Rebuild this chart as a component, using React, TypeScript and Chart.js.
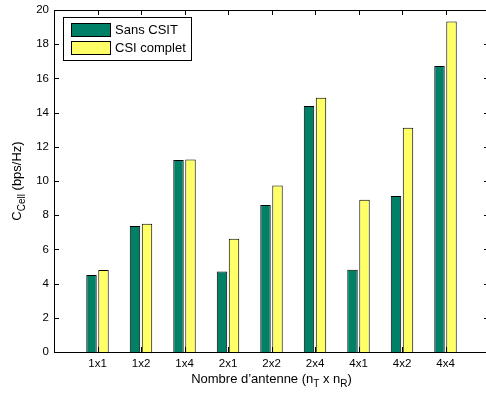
import React, { useEffect, useRef } from "react";
import { Chart, registerables } from "chart.js";

Chart.register(...registerables);

// Antenna configurations (nT x nR)
const categories = ["1x1", "1x2", "1x4", "2x1", "2x2", "2x4", "4x1", "4x2", "4x4"];
// Cell capacity in bps/Hz
const sansCsit = [4.5, 7.37, 11.23, 4.71, 8.6, 14.39, 4.81, 9.12, 16.72];
const csiComplet = [4.8, 7.5, 11.26, 6.63, 9.74, 14.87, 8.9, 13.12, 19.33];
const seriesNames = ["Sans CSIT", "CSI complet"];
const yTicks = [0, 2, 4, 6, 8, 10, 12, 14, 16, 18, 20];

const GREEN = "rgb(0,128,102)";
const YELLOW = "rgb(255,255,102)";
const FONT = "'Liberation Sans', Arial, Helvetica, sans-serif";

// Empty slots at both ends reproduce the 0..10 x-range around the 9 groups
const xLabels = ["", ...categories, ""];
const pad = (arr: number[]) => [null, ...arr, null];

// Draws a text run made of normal and subscript pieces, starting at x along the baseline
function drawRuns(ctx: CanvasRenderingContext2D, runs: { t: string; sub?: boolean }[], x: number, y: number, size: number, subSize: number) {
  for (const r of runs) {
    ctx.font = `${r.sub ? subSize : size}px ${FONT}`;
    ctx.fillText(r.t, x, r.sub ? y + 3.5 : y);
    x += ctx.measureText(r.t).width;
  }
  return x;
}
function runsWidth(ctx: CanvasRenderingContext2D, runs: { t: string; sub?: boolean }[], size: number, subSize: number) {
  let w = 0;
  for (const r of runs) {
    ctx.font = `${r.sub ? subSize : size}px ${FONT}`;
    w += ctx.measureText(r.t).width;
  }
  return w;
}

const decorPlugin = {
  id: "decor",
  afterDraw(chart: any) {
    const ctx: CanvasRenderingContext2D = chart.ctx;
    const { left, right, top, bottom } = chart.chartArea;
    const xs = chart.scales.x;
    const ys = chart.scales.y;
    ctx.save();
    ctx.strokeStyle = "#000";
    ctx.lineWidth = 1;

    // axes box
    ctx.beginPath();
    ctx.rect(left + 0.5, top + 0.5, right - left - 1, bottom - top);
    ctx.stroke();

    // inward tick marks on all four sides
    const tl = 5;
    ctx.beginPath();
    for (const v of yTicks) {
      const py = Math.round(ys.getPixelForValue(v)) + 0.5;
      ctx.moveTo(left, py);
      ctx.lineTo(left + tl, py);
      ctx.moveTo(right, py);
      ctx.lineTo(right - tl, py);
    }
    for (let i = 1; i <= categories.length; i++) {
      const px = Math.round(xs.getPixelForValue(i)) + 0.5;
      ctx.moveTo(px, top);
      ctx.lineTo(px, top + tl);
      ctx.moveTo(px, bottom);
      ctx.lineTo(px, bottom - tl);
    }
    ctx.stroke();

    // legend
    const lx = 63.5, ly = 17.5, lw = 128, lh = 43;
    ctx.fillStyle = "#fff";
    ctx.fillRect(lx, ly, lw, lh);
    ctx.strokeRect(lx, ly, lw, lh);
    const colors = [GREEN, YELLOW];
    const rowsY = [23.5, 41.5];
    ctx.textBaseline = "middle";
    ctx.textAlign = "left";
    seriesNames.forEach((name, i) => {
      ctx.fillStyle = colors[i];
      ctx.fillRect(71.5, rowsY[i], 39, 13);
      ctx.strokeRect(71.5, rowsY[i], 39, 13);
      ctx.fillStyle = "#000";
      ctx.font = `13px ${FONT}`;
      ctx.fillText(name, 115, rowsY[i] + 7);
    });

    // x-axis title with subscripts
    ctx.fillStyle = "#000";
    ctx.textBaseline = "alphabetic";
    const xRuns = [
      { t: "Nombre d\u2019antenne (n" },
      { t: "T", sub: true },
      { t: " x n" },
      { t: "R", sub: true },
      { t: ")" },
    ];
    const xw = runsWidth(ctx, xRuns, 13, 10);
    drawRuns(ctx, xRuns, (left + right) / 2 - xw / 2, 383, 13, 10);

    // y-axis title with subscript, rotated
    const yRuns = [{ t: "C" }, { t: "Cell", sub: true }, { t: " (bps/Hz)" }];
    const yw = runsWidth(ctx, yRuns, 13, 10);
    ctx.translate(21, (top + bottom) / 2);
    ctx.rotate(-Math.PI / 2);
    drawRuns(ctx, yRuns, -yw / 2, 0, 13, 10);
    ctx.restore();
  },
};

export default function App() {
  const canvasRef = useRef<HTMLCanvasElement | null>(null);

  useEffect(() => {
    const canvas = canvasRef.current;
    if (!canvas) return;
    const chart = new Chart(canvas, {
      type: "bar",
      data: {
        labels: xLabels,
        datasets: [
          {
            label: seriesNames[0],
            data: pad(sansCsit) as any,
            backgroundColor: GREEN,
            borderColor: "#000",
            borderWidth: 1,
            categoryPercentage: 0.552,
            barPercentage: 0.87,
          },
          {
            label: seriesNames[1],
            data: pad(csiComplet) as any,
            backgroundColor: YELLOW,
            borderColor: "#000",
            borderWidth: 1,
            categoryPercentage: 0.552,
            barPercentage: 0.87,
          },
        ],
      },
      options: {
        animation: false,
        responsive: false,
        maintainAspectRatio: false,
        devicePixelRatio: 1,
        layout: { padding: { left: 0, right: 1, top: 10, bottom: 0 } },
        plugins: { legend: { display: false }, tooltip: { enabled: false }, title: { display: false } },
        scales: {
          x: {
            type: "category",
            offset: false,
            grid: { display: false, drawTicks: false },
            border: { display: false },
            ticks: {
              color: "#000",
              font: { family: FONT, size: 11.5 },
              padding: 5,
              maxRotation: 0,
              autoSkip: false,
            },
            afterFit: (s: any) => {
              s.height = 42;
              s.paddingLeft = 0;
              s.paddingRight = 0;
            },
          },
          y: {
            min: 0,
            max: 20,
            grid: { display: false, drawTicks: false },
            border: { display: false },
            ticks: {
              stepSize: 2,
              color: "#000",
              font: { family: FONT, size: 11.5 },
              padding: 5,
            },
            afterFit: (s: any) => {
              s.width = 54;
              s.paddingTop = 0;
              s.paddingBottom = 0;
            },
          },
        },
      },
      plugins: [decorPlugin],
    });
    return () => chart.destroy();
  }, []);

  return (
    <div style={{ position: "fixed", left: 0, top: 0, width: 486, height: 394, overflow: "hidden", background: "#fff" }}>
      <canvas ref={canvasRef} width={490} height={394} style={{ display: "block", width: 490, height: 394 }} />
    </div>
  );
}
